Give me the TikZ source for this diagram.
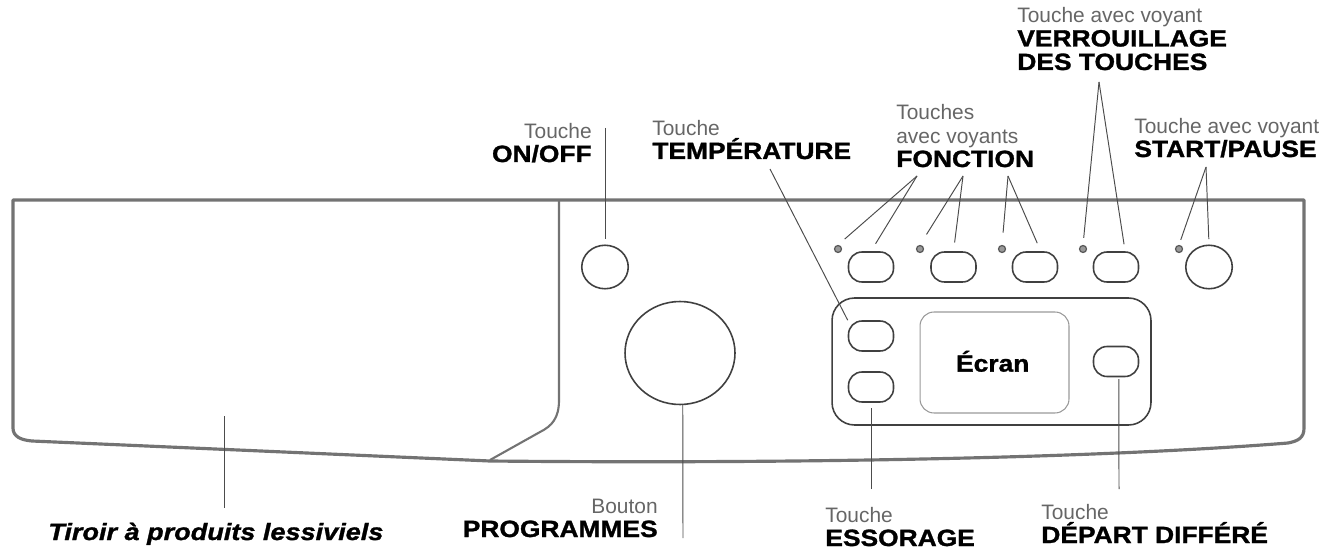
\documentclass[tikz,border=0pt]{standalone}
\usepackage{fontspec}
\usepackage{xcolor}
\usetikzlibrary{shapes.geometric}
\setmainfont{Liberation Sans}
\newfontface\heavyfont[FakeStretch=1.12,FakeBold=1.3]{Liberation Sans Bold}
\newfontface\heavyslant[FakeStretch=1.15,FakeBold=1.3]{Liberation Sans Bold Italic}
\newcommand{\thinline}[1]{{\color{black!60}#1}}
\newcommand{\heavyline}[1]{{\fontsize{13.4}{13.4}\heavyfont #1}}
\tikzset{
  panel/.style={draw=black!55,line width=1.8pt,line join=round},
  pill/.style={draw=black!75,line width=0.9pt,rectangle,rounded corners=0.27cm,minimum width=0.9cm,minimum height=0.6cm,inner sep=0pt},
  roundbtn/.style={draw=black!75,line width=0.9pt,ellipse,minimum width=0.93cm,minimum height=0.87cm,inner sep=0pt},
  led/.style={draw=black!65,fill=black!40,line width=0.7pt,circle,minimum size=0.14cm,inner sep=0pt},
  leader/.style={draw=black!70,line width=0.55pt},
  tagleft/.style={align=left,anchor=base west,inner sep=0pt,font=\fontsize{11.9}{13.4}\selectfont},
  tagright/.style={align=right,anchor=base east,inner sep=0pt,font=\fontsize{11.9}{13.4}\selectfont}
}
\begin{document}
\begin{tikzpicture}[x=0.02cm,y=-0.02cm]
  \useasboundingbox (0,0) rectangle (1337,557);
  \draw[panel] (13,200) -- (1304,200) -- (1304,428) .. controls (1304,438) and (1298,441) .. (1288,443)
    .. controls (1100,458) and (800,464) .. (490,461) -- (32,441) .. controls (20,440) and (13,436) .. (13,428) -- cycle;
  \draw[panel,line width=1.2pt] (559,200) -- (559,400) .. controls (559,418) and (552,426) .. (540,432) -- (490,460);

  \node (frame) at (991.5,361.5) [draw=black!75,line width=0.9pt,rectangle,rounded corners=0.45cm,minimum width=6.38cm,minimum height=2.54cm,inner sep=0pt] {};
  \node (screen) at (994.5,362.5) [draw=black!40,line width=0.6pt,rectangle,rounded corners=0.28cm,minimum width=2.98cm,minimum height=2.02cm,inner sep=0pt,font=\fontsize{13.4}{16}\heavyfont] {\hspace{-2pt}\raisebox{1.5pt}{Écran}};

  \node (onoff) at (605,267) [roundbtn] {};
  \node (knob) at (680,353) [roundbtn,minimum width=2.2cm,minimum height=2.06cm] {};
  \node (temp) at (871,336) [pill] {};
  \node (ess) at (871,387) [pill] {};
  \node (dep) at (1116,361.5) [pill] {};
  \node (fa) at (871,267) [pill] {};
  \node (fb) at (953.5,267) [pill] {};
  \node (fc) at (1035,267) [pill] {};
  \node (vr) at (1116,267) [pill] {};
  \node (st) at (1209,267) [roundbtn] {};
  \node (la) at (838,249) [led] {};
  \node (lb) at (920,249) [led] {};
  \node (lc) at (1002,249) [led] {};
  \node (lv) at (1083,249) [led] {};
  \node (ls) at (1179,249) [led] {};

  \node (tagonoff) at (592,162) [tagright] {\thinline{Touche}\\\heavyline{ON/OFF}};
  \node (tagtemp) at (652,159) [tagleft] {\thinline{Touche}\\\heavyline{TEMPÉRATURE}};
  \node (tagfonc) at (896,167) [tagleft] {\thinline{Touches}\\\thinline{avec voyants}\\\heavyline{FONCTION}};
  \node (tagverr) at (1017,70) [tagleft] {\thinline{Touche avec voyant}\\\heavyline{VERROUILLAGE}\\\heavyline{DES TOUCHES}};
  \node (tagstart) at (1134,157) [tagleft] {\thinline{Touche avec voyant}\\\heavyline{START/PAUSE}};
  \node (tagprog) at (658,537) [tagright] {\thinline{Bouton}\\\heavyline{PROGRAMMES}};
  \node (tagess) at (825,546) [tagleft] {\thinline{Touche}\\\heavyline{ESSORAGE}};
  \node (tagdep) at (1041,543) [tagleft] {\thinline{Touche}\\\heavyline{DÉPART DIFFÉRÉ}};
  \node (tagtiroir) at (48,540) [tagleft,font=\fontsize{13.4}{13.4}\heavyslant] {Tiroir à produits lessiviels};

  \coordinate (tiponoff) at (605,128);
  \coordinate (tiptemp) at (770,169);
  \coordinate (tipfa) at (917,176);
  \coordinate (tipfb) at (963,176);
  \coordinate (tipfc) at (1008,176);
  \coordinate (tipvr) at (1099,82);
  \coordinate (tipst) at (1206,167);
  \coordinate (tipprog) at (683,538);
  \coordinate (tipess) at (871,489);
  \coordinate (tipdep) at (1119,489);
  \coordinate (tiptirtop) at (224.5,416);
  \coordinate (tiptirend) at (224.5,508);

  \draw[leader,shorten >=3pt] (tiponoff) -- (onoff.north);
  \draw[leader] (tiptemp) -- (temp.north west);
  \draw[leader,shorten >=5pt] (tipfa) -- (la.north);
  \draw[leader,shorten >=5pt] (tipfa) -- (fa.north);
  \draw[leader,shorten >=7pt] (tipfb) -- (lb.north);
  \draw[leader,shorten >=5pt] (tipfb) -- (fb.north);
  \draw[leader,shorten >=7pt] (tipfc) -- (lc.north);
  \draw[leader,shorten >=5pt] (tipfc) -- (fc.70);
  \draw[leader,shorten >=4pt] (tipvr) -- (lv.north);
  \draw[leader,shorten >=4pt] (tipvr) -- (vr.60);
  \draw[leader,shorten >=3pt] (tipst) -- (ls.north);
  \draw[leader,shorten >=3pt] (tipst) -- (st.north);
  \draw[leader] (tipprog) -- (knob.-87);
  \draw[leader,shorten >=3pt] (tipess) -- (ess.south);
  \draw[leader,shorten >=1pt] (tipdep) -- (dep.-80);
  \draw[leader] (tiptirtop) -- (tiptirend);
\end{tikzpicture}
\end{document}
